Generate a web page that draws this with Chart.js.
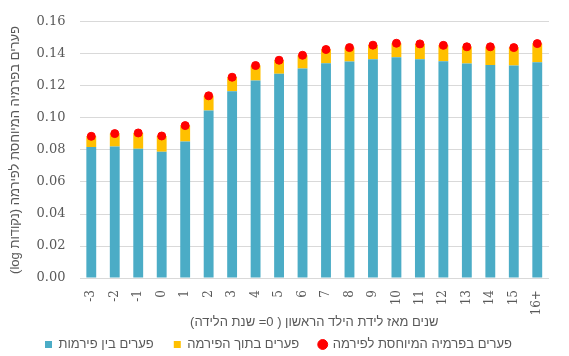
<!DOCTYPE html>
<html>
<head>
<meta charset="utf-8">
<script src="https://cdn.jsdelivr.net/npm/chart.js@4/dist/chart.umd.min.js"></script>
<style>
html,body{margin:0;padding:0;background:#fff;}
#wrap{width:569px;height:356px;position:relative;}
</style>
</head>
<body>
<div id="wrap"><canvas id="c" width="569" height="356"></canvas></div>
<script>
const categories = ['-3','-2','-1','0','1','2','3','4','5','6','7','8','9','10','11','12','13','14','15','16+'];
const betweenFirms = [0.0819,0.0821,0.0808,0.0788,0.0852,0.1046,0.1166,0.1233,0.1275,0.1308,0.1341,0.1352,0.1366,0.1379,0.1366,0.1354,0.1339,0.1331,0.1327,0.1347];
const firmPremium  = [0.0885,0.0902,0.0906,0.0887,0.0952,0.1138,0.1254,0.1327,0.1360,0.1391,0.1427,0.1439,0.1454,0.1466,0.1462,0.1453,0.1444,0.1444,0.1439,0.1464];
const withinFirm = firmPremium.map((v,i)=>+(v-betweenFirms[i]).toFixed(4));
const yTicks = [0,0.02,0.04,0.06,0.08,0.10,0.12,0.14,0.16];

const labelBetween = 'פערים בין פירמות';
const labelWithin = 'פערים בתוך הפירמה';
const labelPremium = 'פערים בפרמיה המיוחסת לפירמה';
const xTitle = 'שנים מאז לידת הילד הראשון ( 0= שנת הלידה)';
const yTitle = 'פערים בפרמיה המיוחסת לפירמה (נקודות log)';
const RLE = '\u202B', PDF = '\u202C';

const gray = '#595959';
const legendShift = {
  id:'legendShift',
  afterInit(chart){
    const lg = chart.legend;
    if(!lg) return;
    const orig = lg.draw.bind(lg);
    lg.draw = function(){
      const t = lg.top;
      lg.top = t - 12;
      orig();
      lg.top = t;
    };
  }
};
new Chart(document.getElementById('c'), {
  data: {
    labels: categories,
    datasets: [
      {type:'bar', label: labelBetween, data: betweenFirms, backgroundColor:'#4BACC6', stack:'s', barPercentage:0.42, categoryPercentage:1, pointStyle:'rect', order:1},
      {type:'bar', label: labelWithin, data: withinFirm, backgroundColor:'#FFC000', stack:'s', barPercentage:0.42, categoryPercentage:1, pointStyle:'rect', order:1},
      {type:'line', label: labelPremium, data: firmPremium, showLine:false, stack:'p', pointRadius:4, pointHoverRadius:4, pointBackgroundColor:'#FF0000', pointBorderColor:'#FF0000', backgroundColor:'#FF0000', borderColor:'#FF0000', pointStyle:'circle', order:0}
    ]
  },
  plugins:[legendShift],
  options: {
    responsive:false,
    animation:false,
    layout:{padding:{left:8,right:20,top:18,bottom:0}},
    plugins:{
      tooltip:{enabled:false},
      legend:{
        position:'bottom',
        maxHeight:26,
        labels:{
          usePointStyle:true, boxWidth:7, boxHeight:7, padding:20,
          color:gray, font:{family:'Liberation Sans', size:13},
          sort:(a,b)=>a.datasetIndex-b.datasetIndex
        }
      }
    },
    scales:{
      x:{
        stacked:true,
        grid:{display:false, drawTicks:false},
        border:{display:false},
        ticks:{minRotation:90,maxRotation:90,padding:12,color:gray,font:{family:'DejaVu Serif',size:12}},
        title:{display:true,text:RLE+xTitle+PDF,color:gray,font:{family:'Liberation Sans',size:13},padding:{top:-13,bottom:0}}
      },
      y:{
        stacked:true,
        min:0,max:0.16,
        afterBuildTicks:(ax)=>{ax.ticks = yTicks.map(v=>({value:v}));},
        grid:{color:'#d9d9d9',lineWidth:1,drawTicks:false},
        border:{display:false},
        ticks:{padding:14,color:gray,font:{family:'DejaVu Serif',size:13},callback:(v)=>Number(v).toFixed(2)},
        title:{display:true,text:RLE+yTitle+PDF,color:gray,font:{family:'Liberation Sans',size:13},padding:{top:0,bottom:-1}}
      }
    }
  }
});
</script>
</body>
</html>
